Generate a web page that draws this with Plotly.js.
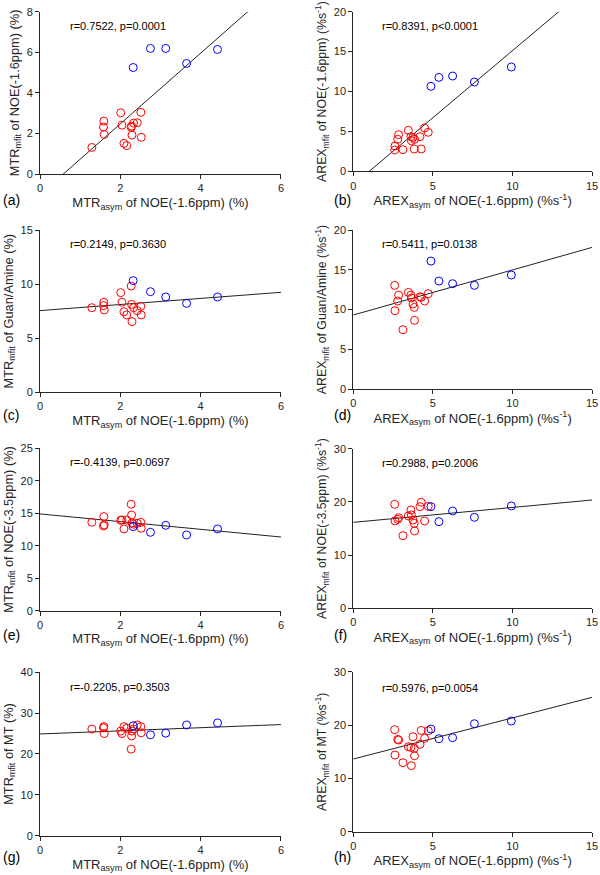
<!DOCTYPE html>
<html><head><meta charset="utf-8">
<script src="https://cdn.plot.ly/plotly-3.0.1.min.js"></script>
<style>html,body{margin:0;padding:0;background:#fff}#chart{width:600px;height:875px}</style>
</head><body><div id="chart"></div>
<script>
// Shared x values
const mtrAsymRed  = [1.29, 1.59, 1.58, 1.60, 2.01, 2.04, 2.09, 2.16, 2.27, 2.28, 2.29, 2.33, 2.42, 2.51, 2.52];
const mtrAsymBlue = [2.32, 2.75, 3.13, 3.65, 4.42];
const arexAsymRed  = [2.60, 2.62, 2.79, 2.85, 3.12, 3.46, 3.62, 3.65, 3.75, 3.83, 3.85, 4.19, 4.27, 4.48, 4.71];
const arexAsymBlue = [4.88, 5.38, 6.24, 7.61, 9.93];

// y values per panel
const mtrNoe16Red  = [1.31, 2.61, 2.32, 1.95, 3.02, 2.41, 1.51, 1.40, 2.30, 2.36, 1.92, 2.51, 2.53, 3.04, 1.81];
const mtrNoe16Blue = [5.25, 6.19, 6.19, 5.45, 6.14];
const arexNoe16Red  = [2.67, 3.17, 4.01, 4.59, 2.71, 5.14, 4.34, 3.84, 4.26, 2.80, 4.01, 4.34, 2.80, 5.43, 4.89];
const arexNoe16Blue = [10.65, 11.77, 11.94, 11.19, 13.07];
const mtrGuanRed  = [7.82, 8.32, 8.01, 7.61, 9.21, 8.32, 7.45, 7.15, 9.82, 8.13, 6.53, 7.82, 7.55, 7.95, 7.15];
const mtrGuanBlue = [10.32, 9.30, 8.81, 8.22, 8.81];
const arexGuanRed  = [13.04, 9.85, 11.07, 11.82, 7.46, 12.16, 11.82, 11.45, 10.69, 10.27, 8.64, 11.61, 11.53, 11.07, 11.99];
const arexGuanBlue = [16.10, 13.58, 13.25, 13.04, 14.34];
const mtrNoe35Red  = [13.60, 14.48, 13.04, 13.19, 13.91, 13.96, 12.58, 13.96, 16.38, 14.73, 13.5, 13.3, 13.45, 13.60, 12.68];
const mtrNoe35Blue = [12.94, 12.06, 13.14, 11.65, 12.58];
const arexNoe35Red  = [19.56, 16.42, 16.73, 17.04, 13.65, 17.36, 18.49, 17.55, 16.6, 15.97, 14.53, 19.12, 19.94, 16.42, 19.18];
const arexNoe35Blue = [19.12, 16.29, 18.30, 17.11, 19.25];
const mtrMtRed  = [26.1, 26.7, 26.4, 25.0, 25.6, 25.0, 26.7, 26.3, 21.2, 24.4, 25.6, 26.1, 27.1, 26.7, 25.2];
const mtrMtBlue = [26.9, 24.7, 25.1, 27.1, 27.6];
const arexMtRed  = [19.13, 14.38, 17.31, 17.19, 12.94, 15.94, 15.81, 12.38, 17.81, 15.63, 14.25, 16.38, 19.0, 17.5, 18.94];
const arexMtBlue = [19.25, 17.44, 17.63, 20.25, 20.75];

// regression lines and statistics, panels a..h
const fitIntercept = [-1.01, -1.68, 7.55, 9.31, 14.89, 16.16, 24.9, 13.63];
const fitSlope     = [1.742, 1.68, 0.282, 0.567, -0.592, 0.281, 0.383, 0.771];
const statText = ["r=0.7522, p=0.0001", "r=0.8391, p<0.0001", "r=0.2149, p=0.3630", "r=0.5411, p=0.0138",
                  "r=-0.4139, p=0.0697", "r=0.2988, p=0.2006", "r=-0.2205, p=0.3503", "r=0.5976, p=0.0054"];
const panelLabels = ["(a)", "(b)", "(c)", "(d)", "(e)", "(f)", "(g)", "(h)"];
const yTitles = [
  "MTR<sub>mfit</sub> of NOE(-1.6ppm) (%)",
  "AREX<sub>mfit</sub> of NOE(-1.6ppm) (%s<sup>-1</sup>)",
  "MTR<sub>mfit</sub> of Guan/Amine (%)",
  "AREX<sub>mfit</sub> of Guan/Amine (%s<sup>-1</sup>)",
  "MTR<sub>mfit</sub> of NOE(-3.5ppm) (%)",
  "AREX<sub>mfit</sub> of NOE(-3.5ppm) (%s<sup>-1</sup>)",
  "MTR<sub>mfit</sub> of MT (%)",
  "AREX<sub>mfit</sub> of MT (%s<sup>-1</sup>)"];
const xTitleLeft  = "MTR<sub>asym</sub> of NOE(-1.6ppm) (%)";
const xTitleRight = "AREX<sub>asym</sub> of NOE(-1.6ppm) (%s<sup>-1</sup>)";
const yMax  = [8, 20, 15, 20, 25, 30, 40, 30];
const yDtick = [2, 5, 5, 5, 5, 10, 10, 10];

const panelsY = [
  [mtrNoe16Red, mtrNoe16Blue], [arexNoe16Red, arexNoe16Blue],
  [mtrGuanRed, mtrGuanBlue],   [arexGuanRed, arexGuanBlue],
  [mtrNoe35Red, mtrNoe35Blue], [arexNoe35Red, arexNoe35Blue],
  [mtrMtRed, mtrMtBlue],       [arexMtRed, arexMtBlue]];

const yDomains = [[0.8011,0.9866],[0.8042,0.9866],[0.5517,0.7371],[0.5554,0.7371],
                  [0.3021,0.4877],[0.3051,0.4869],[0.0449,0.2317],[0.0495,0.2323]];
const xDomLeft = [0.0667, 0.4683], xDomRight = [0.5888, 0.9867];
const labelY = [0.771, 0.771, 0.526, 0.526, 0.274, 0.274, 0.021, 0.021];
const statY = [0.912, 0.91, 0.912, 0.91, 0.917, 0.91, 0.912, 0.90];

const font = "Liberation Sans, Arial, Helvetica, sans-serif";
const axCol = "#262626";
const traces = [];
const layout = {
  width: 600, height: 875, margin: {l:0, r:0, t:0, b:0},
  paper_bgcolor: "#fff", plot_bgcolor: "#fff", showlegend: false,
  font: {family: font, size: 11, color: axCol},
  annotations: []
};

for (let i = 0; i < 8; i++) {
  const n = i + 1;
  const xa = "x" + n, ya = "y" + n;
  const left = (i % 2 === 0);
  const xs = left ? [mtrAsymRed, mtrAsymBlue] : [arexAsymRed, arexAsymBlue];
  const xMax = left ? 6 : 15;
  traces.push({x: [0, xMax], y: [fitIntercept[i], fitIntercept[i] + fitSlope[i] * xMax],
    mode: "lines", line: {color: "#222", width: 1}, xaxis: xa, yaxis: ya, hoverinfo: "skip"});
  traces.push({x: xs[0], y: panelsY[i][0], mode: "markers", xaxis: xa, yaxis: ya,
    marker: {symbol: "circle-open", size: 8, color: "#ff0000", line: {width: 1}}});
  traces.push({x: xs[1], y: panelsY[i][1], mode: "markers", xaxis: xa, yaxis: ya,
    marker: {symbol: "circle-open", size: 8, color: "#0000ff", line: {width: 1}}});

  const common = {showgrid: false, zeroline: false, showline: true, linecolor: axCol, linewidth: 1,
    ticks: "outside", ticklen: 4, tickcolor: axCol, tickfont: {family: font, size: 11, color: axCol},
    fixedrange: true};
  layout["xaxis" + n] = Object.assign({}, common, {
    domain: left ? xDomLeft : xDomRight, anchor: ya, range: [0, xMax], dtick: left ? 2 : 5,
    title: {text: left ? xTitleLeft : xTitleRight, font: {family: font, size: 13, color: axCol}, standoff: 4}
  });
  layout["yaxis" + n] = Object.assign({}, common, {
    domain: yDomains[i], anchor: xa, range: [0, yMax[i]], dtick: yDtick[i],
    title: {text: yTitles[i], font: {family: font, size: left ? 12.8 : 12.3, color: axCol}, standoff: 4}
  });
  layout.annotations.push({xref: xa + " domain", yref: ya + " domain", x: left ? 0.116 : 0.112, y: statY[i],
    xanchor: "left", yanchor: "middle", text: statText[i], showarrow: false,
    font: {family: font, size: 11, color: "#000"}});
  layout.annotations.push({xref: "paper", yref: "paper", x: left ? 0.002 : 0.553, y: labelY[i],
    xanchor: "left", yanchor: "middle", text: panelLabels[i], showarrow: false,
    font: {family: font, size: 14, color: "#000"}});
}

Plotly.newPlot("chart", traces, layout, {displayModeBar: false, staticPlot: true});
</script></body></html>
